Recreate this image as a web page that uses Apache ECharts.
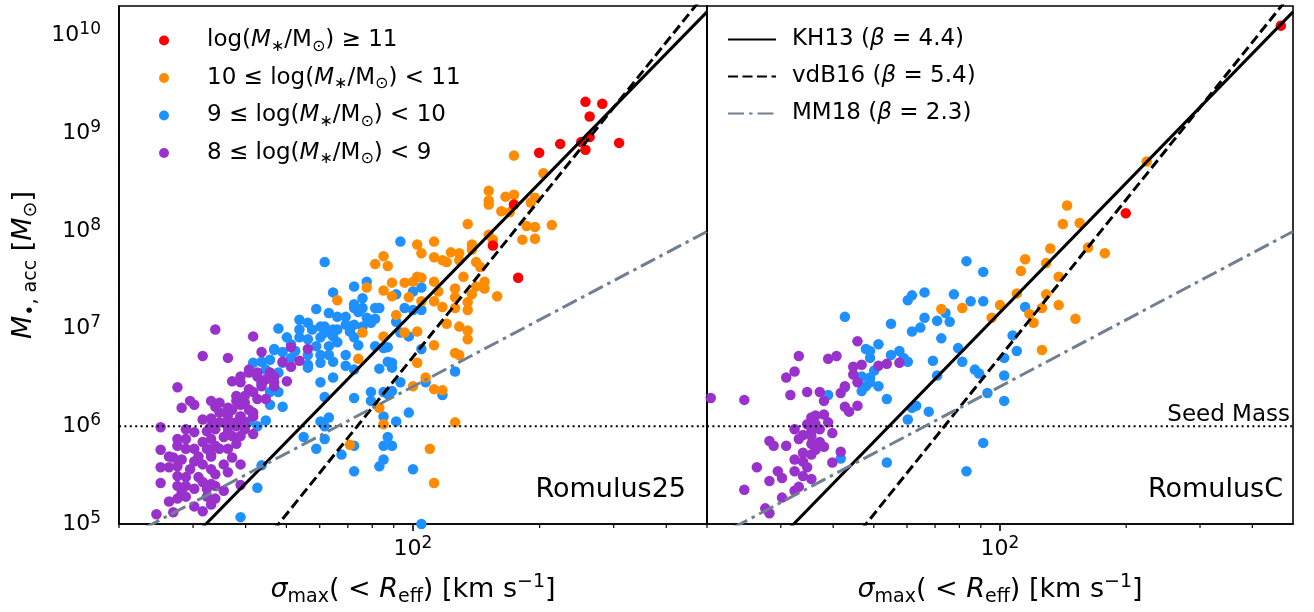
<!DOCTYPE html>
<html>
<head>
<meta charset="utf-8">
<script src="https://cdn.jsdelivr.net/npm/echarts@6/dist/echarts.min.js"></script>
<style>
  html, body { margin: 0; padding: 0; background: #fff; }
  #chart { width: 1314px; height: 612px; }
</style>
</head>
<body>
<div id="chart"></div>
<script>
// Each galaxy: [log10 sigma_max(<R_eff) in km/s, log10 M_BH,acc in Msun]

// Romulus25, 8 <= log(M*/Msun) < 9
const romulus25_m8 = [
  [1.53,6.99],[1.62,6.92],[1.50,6.72],[1.56,6.70],[1.44,6.40],[1.57,6.46],[1.64,6.76],[1.71,6.81],[1.75,6.79],[1.69,6.66],
  [1.73,6.67],[1.70,6.46],[1.63,6.55],[1.65,6.48],[1.67,6.41],[1.67,6.51],[1.62,6.35],[1.60,6.31],[1.63,6.28],[1.65,6.28],
  [1.59,6.22],[1.58,6.26],[1.52,6.26],[1.54,6.24],[1.56,6.17],[1.47,6.26],[1.45,6.19],[1.48,6.22],[1.56,6.12],[1.59,6.10],
  [1.61,6.17],[1.62,6.10],[1.52,6.08],[1.54,6.04],[1.52,6.00],[1.40,5.99],[1.51,5.95],[1.53,5.97],[1.56,5.99],[1.58,6.00],
  [1.60,5.97],[1.62,5.92],[1.57,5.90],[1.55,5.89],[1.52,5.87],[1.50,5.84],[1.44,5.87],[1.46,5.87],[1.40,5.76],[1.44,5.80],
  [1.48,5.77],[1.51,5.77],[1.53,5.80],[1.56,5.77],[1.58,5.82],[1.52,5.69],[1.52,5.71],[1.57,5.68],[1.43,5.68],[1.45,5.66],
  [1.48,5.64],[1.40,5.58],[1.42,5.58],[1.44,5.59],[1.47,5.56],[1.50,5.61],[1.55,5.61],[1.59,5.61],[1.53,5.51],[1.56,5.53],
  [1.44,5.49],[1.46,5.48],[1.49,5.48],[1.40,5.42],[1.48,5.36],[1.52,5.41],[1.59,5.40],[1.55,5.34],[1.45,5.32],[1.42,5.23],
  [1.46,5.28],[1.51,5.28],[1.53,5.26],[1.52,5.20],[1.48,5.18],[1.43,5.12],[1.39,5.10],[1.50,5.13],[1.44,5.26],[1.71,6.61],
  [1.61,6.58],[1.64,6.45],[1.59,6.45],[1.61,6.38],[1.58,6.31],[1.56,6.19],[1.54,6.14],[1.60,6.04],[1.56,6.07],[1.53,6.20],
  [1.50,6.07],[1.48,5.94],[1.46,5.97],[1.59,5.90],[1.56,5.94],[1.54,5.77],[1.49,5.69],[1.46,5.77],[1.42,5.69],[1.52,5.56],
  [1.53,5.39],[1.51,5.36],[1.50,5.43],[1.46,5.39],[1.44,5.39],[1.59,6.51],[1.61,6.55],[1.63,6.51],[1.66,6.55],[1.67,6.45],
  [1.64,6.41],[1.60,6.24],[1.57,6.17],[1.59,6.10],[1.62,6.14],[1.58,6.04]
];

// Romulus25, 9 <= log(M*/Msun) < 10
const romulus25_m9 = [
  [1.62,6.65],[1.64,6.66],[1.67,6.79],[1.78,6.45],[1.79,6.30],[1.66,6.22],[1.69,6.20],[1.65,6.06],[1.61,6.05],[1.63,6.00],
  [1.78,6.05],[1.79,5.87],[1.74,5.89],[1.77,5.77],[1.64,5.60],[1.63,5.37],[1.59,5.07],[1.68,6.35],
  [1.97,7.89],[1.79,7.68],[1.81,7.37],[1.86,7.43],[1.89,7.48],[1.88,7.31],[1.86,7.21],[1.77,7.20],[1.80,7.16],[1.82,7.12],
  [1.84,7.12],[1.91,7.21],[1.89,7.11],[1.91,7.10],[1.73,7.09],[1.75,7.06],[1.78,7.02],[1.79,7.02],[1.81,6.99],[1.79,6.96],
  [1.82,6.99],[1.88,7.02],[1.90,7.06],[1.68,7.00],[1.70,6.91],[1.75,6.89],[1.73,6.91],[1.78,6.91],[1.81,6.92],[1.86,6.91],
  [1.77,6.82],[1.80,6.82],[1.82,6.86],[1.67,6.78],[1.69,6.76],[1.72,6.77],[1.75,6.73],[1.78,6.73],[1.80,6.73],[1.66,6.68],
  [1.69,6.65],[1.71,6.70],[1.75,6.63],[1.78,6.65],[1.81,6.66],[1.65,6.58],[1.68,6.55],[1.75,6.60],[1.91,6.82],[1.94,6.81],
  [1.84,6.62],[1.86,6.58],[1.81,6.50],[1.92,6.59],[1.94,6.66],[1.95,6.60],[1.97,6.45],[2.02,6.79],[1.86,6.29],[1.90,6.35],
  [1.90,6.26],[1.94,6.33],[1.95,6.36],[1.99,6.14],[1.96,6.05],[1.79,6.00],[1.66,6.35],[1.64,6.43],
  [1.96,7.35],[2.00,7.38],[2.02,7.42],[2.00,7.19],[1.96,7.07],[1.97,6.96],[1.99,6.92],[2.02,7.19],[1.92,7.21],
  [1.93,6.80],[1.95,6.65],[2.10,6.56],[2.03,6.45],[1.93,6.35],[2.07,6.32],[1.93,6.10],[1.94,5.89],[1.95,5.80],[1.93,5.80],
  [1.93,5.66],[1.92,5.59],[2.00,5.56],[2.02,5.00],[1.80,6.09],[1.83,5.71],[1.86,5.80],[1.86,5.54],
  [1.87,7.17],[1.88,7.21],[1.98,7.21],[1.86,7.25],
  [1.84,7.04],[1.86,7.04],[1.85,6.97],[1.87,6.83],[1.71,6.84],[1.73,6.99],[1.76,6.99],[1.84,6.73]
];

// Romulus25, 10 <= log(M*/Msun) < 11
const romulus25_m10 = [
  [2.01,7.86],[2.02,7.77],[1.93,7.74],[1.91,7.66],[1.94,7.64],[1.82,7.29],[1.89,7.42],[1.95,7.47],[1.93,7.39],[1.98,7.47],
  [2.00,7.48],[2.02,7.52],[1.95,7.33],[1.99,7.32],[2.02,7.28],[1.96,7.14],[1.88,6.96],[1.93,6.92],[1.98,6.96],[2.01,6.97],
  [1.87,6.69],[2.01,6.65],[2.03,6.50],[2.00,6.41],[1.92,6.19],[1.93,6.02],
  [2.24,8.77],[2.31,8.59],[2.18,8.41],[2.18,8.31],[2.18,8.27],[2.22,8.35],[2.24,8.37],[2.21,8.20],[2.23,8.19],[2.29,8.34],
  [2.28,8.29],[2.13,8.07],[2.27,8.05],[2.29,8.04],[2.33,8.06],[2.26,7.91],[2.29,7.92],[2.18,7.96],[2.19,7.91],[2.14,7.86],
  [2.14,7.81],[2.05,7.89],[2.05,7.73],[2.07,7.70],[2.09,7.78],[2.08,7.68],[2.11,7.77],[2.11,7.70],[2.15,7.68],[2.16,7.63],
  [2.12,7.53],[2.01,7.53],[2.05,7.48],[2.06,7.38],[2.10,7.41],[2.15,7.43],[2.17,7.48],[2.17,7.41],[2.14,7.35],[2.20,7.33],
  [2.05,7.28],[2.07,7.22],[2.10,7.32],[2.10,7.21],[2.13,7.19],[2.13,7.27],[2.08,7.05],
  [2.11,7.02],[2.13,6.98],[2.13,6.89],[2.05,6.83],[2.10,6.75],[2.11,6.73],[2.05,6.38],[2.07,6.37],[2.10,6.04],[2.04,5.77],
  [2.05,5.42],[1.85,5.81]
];

// Romulus25, log(M*/Msun) >= 11
const romulus25_m11 = [
  [2.35,8.89],[2.30,8.80],[2.41,9.32],[2.45,9.30],[2.42,9.17],[2.42,8.96],[2.40,8.91],[2.41,8.83],[2.49,8.90],[2.24,8.27],
  [2.19,7.85],[2.25,7.52]
];

// RomulusC, 8 <= log(M*/Msun) < 9
const romulusC_m8 = [
  [1.31,6.29],[1.39,6.27],[1.52,6.72],[1.51,6.56],[1.49,6.50],[1.50,6.32],[1.54,6.35],[1.57,6.35],[1.59,6.69],[1.61,6.72],
  [1.66,6.87],[1.65,6.61],[1.65,6.53],[1.67,6.63],[1.66,6.45],[1.63,6.41],[1.62,6.34],[1.58,6.26],[1.63,6.20],[1.66,6.21],
  [1.64,6.15],[1.71,6.62],[1.73,6.64],[1.76,6.65],[1.55,6.09],[1.56,6.11],[1.58,6.12],[1.59,6.04],[1.54,6.02],[1.51,5.97],
  [1.55,5.95],[1.57,5.97],[1.60,5.93],[1.53,5.91],[1.55,5.90],[1.57,5.84],[1.58,5.79],[1.45,5.85],[1.46,5.80],[1.49,5.80],
  [1.62,5.74],[1.53,5.73],[1.55,5.71],[1.51,5.66],[1.53,5.64],[1.54,5.58],[1.60,5.63],[1.42,5.58],[1.47,5.54],[1.51,5.54],
  [1.45,5.44],[1.48,5.47],[1.53,5.49],[1.55,5.46],[1.39,5.35],[1.51,5.34],[1.52,5.38],[1.48,5.27],[1.44,5.16],[1.45,5.11],
  [1.56,6.02],[1.55,5.82],[1.52,5.87],[1.56,5.76]
];

// RomulusC, 9 <= log(M*/Msun) < 10
const romulusC_m9 = [
  [1.63,7.12],[1.74,7.05],[1.79,7.34],[1.78,7.29],[1.79,6.97],[1.71,6.84],[1.68,6.79],[1.69,6.77],[1.69,6.70],[1.74,6.73],
  [1.76,6.77],[1.77,6.70],[1.78,6.66],[1.70,6.57],[1.67,6.51],[1.69,6.50],[1.68,6.41],[1.67,6.36],[1.71,6.41],[1.69,6.45],
  [1.63,6.40],[1.59,6.32],[1.73,6.28],[1.79,6.19],[1.78,6.07],[1.62,5.67],[1.73,5.63],
  [1.92,7.69],[1.96,7.58],[1.82,7.37],[1.89,7.35],[1.93,7.28],[1.96,7.28],[1.87,7.16],[1.88,7.07],[1.82,7.11],[1.85,7.08],
  [1.81,7.01],[1.86,6.90],[2.06,7.22],[2.03,6.93],[2.04,6.77],[2.01,6.70],[1.90,6.80],[1.84,6.67],[1.91,6.66],[1.85,6.52],
  [1.94,6.58],[1.95,6.54],[2.01,6.52],[1.97,6.34],[2.01,6.26],[1.80,6.21],[1.83,6.15],[1.96,5.83],[1.92,5.54]
];

// RomulusC, 10 <= log(M*/Msun) < 11
const romulusC_m10 = [
  [2.16,8.26],[2.15,8.07],[2.19,8.08],[2.12,7.82],[2.21,7.83],[2.25,7.77],[2.06,7.71],[2.05,7.59],[2.11,7.67],[2.14,7.53],
  [2.04,7.36],[2.11,7.35],[2.00,7.24],[2.14,7.24],[2.10,7.21],[1.86,7.20],[1.91,7.21],[1.98,7.11],[2.07,7.15],[2.08,7.06],
  [2.18,7.10],[2.10,6.78],[2.35,8.71]
];

// RomulusC, log(M*/Msun) >= 11
const romulusC_m11 = [[2.30,8.18],[2.67,10.10]];

// Scaling relations: log M = norm + slope * log(sigma / 200 km/s)
const relationNames = ['KH13', 'vdB16', 'MM18'];
const relationNorm = [8.49, 8.32, 7.09];
const relationSlope = [4.4, 5.35, 2.27];
const relationBeta = ['4.4', '5.4', '2.3'];

const seedMass = 1e6;            // Msun
const sigmaRange = [20, 500];    // km/s
const massRange = [1e5, 2e10];   // Msun
const panelNames = ['Romulus25', 'RomulusC'];

const xMajorTicks = [100];
const xMinorTicks = [20, 30, 40, 50, 60, 70, 80, 90, 200, 300, 400];
const yMajorTicks = [1e5, 1e6, 1e7, 1e8, 1e9, 1e10];
const yMinorMantissas = [2, 3, 4, 5, 6, 7, 8, 9];
const yMinorTicks = [];
[5, 6, 7, 8, 9].forEach(e => yMinorMantissas.forEach(m => yMinorTicks.push(m * Math.pow(10, e))));

// ---- styling ----
const FONT = 'DejaVu Sans';
const INK = '#000';
const SPINE = 1.6;
const binColors = { m11: '#ff0000', m10: '#ff8c00', m9: '#1e90ff', m8: '#9932cc' };
const relationStyles = {
  KH13:  { color: '#000', width: 3, type: 'solid' },
  vdB16: { color: '#000', width: 3, type: [10, 4.5] },
  MM18:  { color: '#708090', width: 3, type: [16, 5, 3.5, 5] }
};
const tickStyle = { majorLen: 7, minorLen: 4, majorWidth: 1.6, minorWidth: 1.2 };

const rich = {
  n:   { fontFamily: FONT, fontSize: 23, lineHeight: 28, color: INK },
  p:   { fontFamily: FONT, fontSize: 23, lineHeight: 28, color: INK, padding: [0, 0, 0, 33] },
  n0:  { fontFamily: FONT, fontSize: 23, lineHeight: 28, color: INK, padding: [0, 0, 0, 11] },
  i:   { fontFamily: FONT, fontSize: 23, lineHeight: 28, color: INK, fontStyle: 'italic' },
  sub: { fontFamily: FONT, fontSize: 16, lineHeight: 17, color: INK, verticalAlign: 'bottom' },
  b:   { fontFamily: FONT, fontSize: 22, lineHeight: 28, color: INK },
  sup: { fontFamily: FONT, fontSize: 17, lineHeight: 18, color: INK, verticalAlign: 'top' }
};
const titleRich = {
  n:   { fontFamily: FONT, fontSize: 27, lineHeight: 34, color: INK },
  i:   { fontFamily: FONT, fontSize: 27, lineHeight: 34, color: INK, fontStyle: 'italic' },
  sub: { fontFamily: FONT, fontSize: 19, lineHeight: 20, color: INK, verticalAlign: 'bottom' },
  sup: { fontFamily: FONT, fontSize: 19, lineHeight: 20, color: INK, verticalAlign: 'top' }
};

const binLabels = {
  m11: '{p|log(}{i|M}{sub|∗}{n|/M}{sub|⊙}{n|) ≥ 11}',
  m10: '{p|10 ≤ log(}{i|M}{sub|∗}{n|/M}{sub|⊙}{n|) < 11}',
  m9:  '{p|9 ≤ log(}{i|M}{sub|∗}{n|/M}{sub|⊙}{n|) < 10}',
  m8:  '{p|8 ≤ log(}{i|M}{sub|∗}{n|/M}{sub|⊙}{n|) < 9}'
};
const relationLabel = k => {
  const idx = relationNames.indexOf(k);
  return '{n0|' + k + ' (}{i|β}{n| = ' + relationBeta[idx] + ')}';
};

// axes run in decades: positions are log10 of the physical values
const lg = v => Math.log10(v);
const powLabel = v => '{b|10}{sup|' + Math.round(v) + '}';
const xLo = lg(sigmaRange[0]), xHi = lg(sigmaRange[1]);
const yLo = lg(massRange[0]), yHi = lg(massRange[1]);

const panels = [
  { bins: { m8: romulus25_m8, m9: romulus25_m9, m10: romulus25_m10, m11: romulus25_m11 } },
  { bins: { m8: romulusC_m8, m9: romulusC_m9, m10: romulusC_m10, m11: romulusC_m11 } }
];

const gridBoxes = [
  { left: 119, top: 6, width: 588, height: 519 },
  { left: 707, top: 6, width: 586, height: 519 }
];
const grids = gridBoxes.map(g => Object.assign({}, g, {
  show: true, borderColor: INK, borderWidth: SPINE, backgroundColor: 'transparent', containLabel: false
}));

const xAxes = grids.map((g, gi) => ({
  type: 'value', gridIndex: gi, min: xLo, max: xHi, position: 'bottom',
  axisLine: { show: true, onZero: false, lineStyle: { color: INK, width: SPINE } },
  axisTick: { show: false },
  axisLabel: { show: true, customValues: xMajorTicks.map(lg), formatter: powLabel, rich: rich, margin: 11 },
  splitLine: { show: false }, minorTick: { show: false },
  name: '{i|σ}{sub|max}{n|( < }{i|R}{sub|eff}{n|) [km s}{sup|−1}{n|]}',
  nameLocation: 'middle', nameGap: 49, nameTextStyle: { rich: titleRich }
}));
const yAxes = grids.map((g, gi) => ({
  type: 'value', gridIndex: gi, min: yLo, max: yHi, position: 'left',
  axisLine: { show: true, onZero: false, lineStyle: { color: INK, width: SPINE } },
  axisTick: { show: false },
  axisLabel: { show: gi === 0, customValues: yMajorTicks.map(lg), formatter: powLabel, rich: rich, margin: 18 },
  splitLine: { show: false }, minorTick: { show: false },
  name: gi === 0 ? '{i|M}{sub|•, acc}{n| [}{i|M}{sub|⊙}{n|]}' : '',
  nameLocation: 'middle', nameGap: 78, nameRotate: 90, nameTextStyle: { rich: titleRich }
}));

const series = [];
const drawOrder = ['m9', 'm10', 'm8', 'm11'];
panels.forEach((p, pi) => {
  drawOrder.forEach(k => {
    series.push({
      name: k, type: 'scatter', xAxisIndex: pi, yAxisIndex: pi,
      data: p.bins[k], symbol: 'circle', symbolSize: 10.5,
      itemStyle: { color: binColors[k], opacity: 1 }, silent: true, z: 2
    });
  });
  relationNames.forEach((k, ri) => {
    const st = relationStyles[k];
    series.push({
      name: k, type: 'line', xAxisIndex: pi, yAxisIndex: pi,
      data: sigmaRange.map(s => [lg(s), relationNorm[ri] + relationSlope[ri] * lg(s / 200)]),
      symbol: 'none', showSymbol: false, clip: true, silent: true, z: 4,
      lineStyle: { color: st.color, width: st.width, type: st.type },
      itemStyle: { color: st.color }
    });
  });
  series.push({
    name: 'seed', type: 'line', xAxisIndex: pi, yAxisIndex: pi,
    data: sigmaRange.map(s => [lg(s), lg(seedMass)]),
    symbol: 'none', showSymbol: false, silent: true, z: 3,
    lineStyle: { color: INK, width: 2, type: [2, 3.4] }
  });

  // outward tick marks: short unclipped line series just outside the frame
  const box = gridBoxes[pi];
  const xPerPx = (xHi - xLo) / box.width;   // decades of sigma per pixel
  const yPerPx = (yHi - yLo) / box.height;  // decades of mass per pixel
  const tickLine = (a, b, w) => ({
    type: 'line', xAxisIndex: pi, yAxisIndex: pi, data: [a, b],
    symbol: 'none', showSymbol: false, clip: false, silent: true, z: 6,
    lineStyle: { color: INK, width: w, type: 'solid', cap: 'butt' }
  });
  xMajorTicks.forEach(v => series.push(tickLine([lg(v), yLo], [lg(v), yLo - tickStyle.majorLen * yPerPx], tickStyle.majorWidth)));
  xMinorTicks.forEach(v => series.push(tickLine([lg(v), yLo], [lg(v), yLo - tickStyle.minorLen * yPerPx], tickStyle.minorWidth)));
  yMajorTicks.forEach(v => series.push(tickLine([xLo, lg(v)], [xLo - tickStyle.majorLen * xPerPx, lg(v)], tickStyle.majorWidth)));
  yMinorTicks.forEach(v => series.push(tickLine([xLo, lg(v)], [xLo - tickStyle.minorLen * xPerPx, lg(v)], tickStyle.minorWidth)));
});

const legends = [];
['m11', 'm10', 'm9', 'm8'].forEach((k, i) => {
  legends.push({
    data: [k], left: 159, top: 43 + i * 37.5 - 14, padding: 0, icon: 'circle',
    itemWidth: 10, itemHeight: 10, selectedMode: false,
    formatter: name => binLabels[name], textStyle: { rich: rich }
  });
});
relationNames.forEach((k, i) => {
  legends.push({
    data: [k], left: 727, top: 42 + i * 37 - 14, padding: 0,
    itemWidth: 48, itemHeight: 14, selectedMode: false,
    itemStyle: { opacity: 0 },
    formatter: name => relationLabel(name), textStyle: { rich: rich }
  });
});

const annotations = [
  { type: 'text', x: 686, y: 490, silent: true,
    style: { text: panelNames[0], align: 'right', verticalAlign: 'middle', fontFamily: FONT, fontSize: 27, fill: INK } },
  { type: 'text', x: 1283, y: 490, silent: true,
    style: { text: panelNames[1], align: 'right', verticalAlign: 'middle', fontFamily: FONT, fontSize: 27, fill: INK } },
  { type: 'text', x: 1290, y: 415, silent: true,
    style: { text: 'Seed Mass', align: 'right', verticalAlign: 'middle', fontFamily: FONT, fontSize: 23, fill: INK } }
];

const chart = echarts.init(document.getElementById('chart'), null, { renderer: 'canvas' });
chart.setOption({
  animation: false,
  backgroundColor: '#fff',
  grid: grids,
  xAxis: xAxes,
  yAxis: yAxes,
  legend: legends,
  series: series,
  graphic: annotations
});
</script>
</body>
</html>
